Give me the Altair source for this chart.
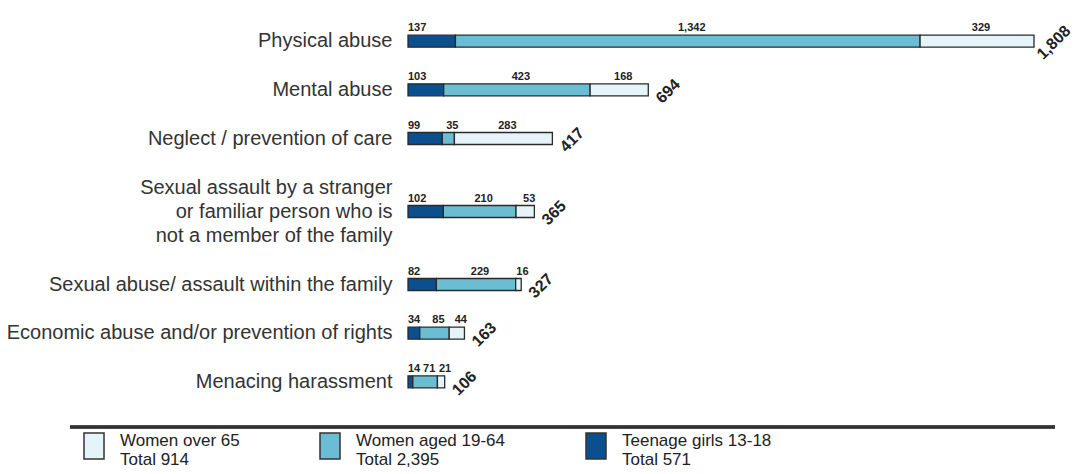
import altair as alt
import pandas as pd

categories = [
    "Physical abuse",
    "Mental abuse",
    "Neglect / prevention of care",
    "Sexual assault by a stranger\nor familiar person who is\nnot a member of the family",
    "Sexual abuse/ assault within the family",
    "Economic abuse and/or prevention of rights",
    "Menacing harassment",
]
# empty band slots placed before each category (extra room around the 3-line label)
gaps_before = [0, 1, 1, 2, 2, 1, 1]
groups = ["Teenage girls 13-18", "Women aged 19-64", "Women over 65"]
teen = [137, 103, 99, 102, 82, 34, 14]
adult = [1342, 423, 35, 210, 229, 85, 71]
senior = [329, 168, 283, 53, 16, 44, 21]
colors = ["#0b4f8f", "#6bbdd4", "#e4f4f9"]
legend_order = ["Women over 65", "Women aged 19-64", "Teenage girls 13-18"]

series = [teen, adult, senior]
rows = []
for i, cat in enumerate(categories):
    start = 0
    for g, (name, vals) in enumerate(zip(groups, series)):
        v = vals[i]
        rows.append(dict(category=cat, group=name, order=g, value=v,
                         start=start, end=start + v, mid=start + v / 2,
                         label=f"{v:,}"))
        start += v
df = pd.DataFrame(rows)

tot = pd.DataFrame({
    "category": categories,
    "total": [t + a + s for t, a, s in zip(teen, adult, senior)],
})
tot["label"] = tot["total"].map(lambda v: f"{v:,}")
xmax = int(tot["total"].max())

# band domain with blank spacer slots
ydomain = []
spacer = 0
for cat, g in zip(categories, gaps_before):
    for _ in range(g):
        spacer += 1
        ydomain.append(" " * spacer)
    ydomain.append(cat)

group_totals = {name: sum(vals) for name, vals in zip(groups, series)}
color_of = dict(zip(groups, colors))
expr = "'Total " + f"{group_totals[legend_order[-1]]:,}" + "'"
for name in legend_order[:-1]:
    expr = f"datum.label == '{name}' ? 'Total {group_totals[name]:,}' : " + expr
label_expr = f"[datum.label, {expr}]"

FONT = "Liberation Sans"
W = 626
STEP = 24.36
H = round(STEP * len(ydomain))

xscale = alt.Scale(domain=[0, xmax], nice=False, zero=True)
yenc = alt.Y(
    "category:N",
    scale=alt.Scale(domain=ydomain, paddingInner=0, paddingOuter=0),
    axis=alt.Axis(
        title=None, domain=False, ticks=False, labelFontSize=20,
        labelColor="#333333", labelPadding=16, labelLimit=0,
        labelLineHeight=24, labelFont=FONT,
        labelExpr="split(datum.label, '\\n')",
        labelOffset={"condition": {"test": "indexof(datum.label, '\\n') >= 0",
                                   "value": -24}, "value": 0},
    ),
)

bars = alt.Chart(df).mark_bar(size=12, stroke="#2a2a2a", strokeWidth=1.3).encode(
    x=alt.X("start:Q", scale=xscale, axis=None),
    x2="end:Q",
    y=yenc,
    order=alt.Order("order:Q"),
    color=alt.Color(
        "group:N",
        scale=alt.Scale(domain=legend_order,
                        range=[color_of[n] for n in legend_order]),
        legend=alt.Legend(
            title=None, orient="none", legendX=-328, legendY=H + 25,
            direction="horizontal", columns=3, columnPadding=76,
            symbolType="M-0.77,0 L0.77,0 L0.77,2 L-0.77,2 Z",
            symbolSize=676, symbolStrokeColor="#333333",
            symbolStrokeWidth=1.5, symbolOpacity=1,
            labelFont=FONT, labelFontSize=17, labelColor="#222222",
            labelBaseline="top", labelOffset=12, labelLimit=0,
            labelExpr=label_expr, padding=0,
        ),
    ),
)

first = alt.Chart(df[df["order"] == 0]).mark_text(
    align="left", baseline="alphabetic", dy=-10, fontSize=11,
    fontWeight="bold", font=FONT, color="#222222",
).encode(x=alt.X("start:Q", scale=xscale), y=yenc, text="label:N")

rest = alt.Chart(df[df["order"] > 0]).mark_text(
    align="center", baseline="alphabetic", dx=4, dy=-10, fontSize=11,
    fontWeight="bold", font=FONT, color="#222222",
).encode(x=alt.X("mid:Q", scale=xscale), y=yenc, text="label:N")

totals = alt.Chart(tot).mark_text(
    align="center", baseline="middle", angle=315, dx=13, dy=15,
    fontSize=16, fontWeight="bold", font=FONT, color="#222222",
).encode(x=alt.X("total:Q", scale=xscale), y=yenc, text="label:N")

rule = alt.Chart(tot).mark_rule(color="#333333", strokeWidth=2.5).encode(
    x=alt.value(-338), x2=alt.value(647), y=alt.value(H + 33)
)

chart = alt.layer(bars, first, rest, totals, rule).properties(
    width=W, height=H,
    autosize=alt.AutoSizeParams(type="none"),
    padding={"left": 400, "top": 21, "right": 39, "bottom": 466 - 21 - H},
).configure_view(stroke=None)

chart.save("out.html", embed_options={"renderer": "svg", "actions": False})
